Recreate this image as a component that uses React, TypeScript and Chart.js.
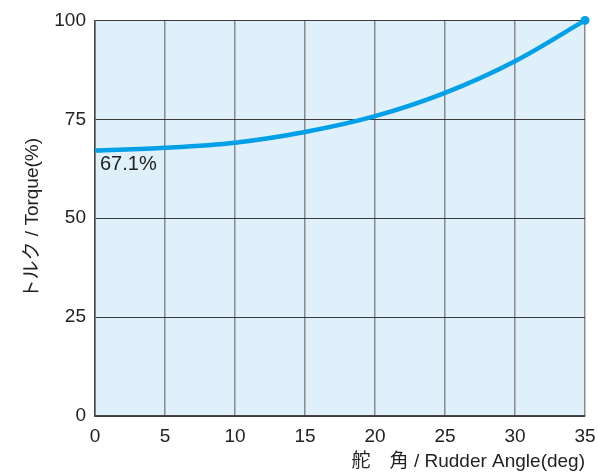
import React, { useEffect, useRef } from "react";
import { Chart, registerables } from "chart.js";

Chart.register(...registerables);

const angles = [0, 5, 10, 15, 20, 25, 30, 35];
const torque = [67.1, 67.8, 69.1, 71.8, 75.8, 81.7, 89.7, 100];
const xTicks = [0, 5, 10, 15, 20, 25, 30, 35];
const yTicks = [0, 25, 50, 75, 100];
const startLabel = "67.1%";
const xTitle = "舵\u3000角 / Rudder Angle(deg)";
const yTitle = "トルク / Torque(%)";

const FONT = "'Liberation Sans', 'Noto Sans CJK JP', Arial, sans-serif";

const bgPlugin = {
  id: "plotBg",
  beforeDraw(chart: any) {
    const { ctx, chartArea } = chart;
    ctx.save();
    ctx.fillStyle = "#dff0fa";
    ctx.fillRect(chartArea.left, chartArea.top, chartArea.right - chartArea.left, chartArea.bottom - chartArea.top);
    ctx.restore();
  },
};

const labelPlugin = {
  id: "startLabel",
  afterDatasetsDraw(chart: any) {
    const { ctx, scales } = chart;
    const x = scales.x.getPixelForValue(angles[0]);
    const y = scales.y.getPixelForValue(torque[0]);
    ctx.save();
    ctx.font = `20px ${FONT}`;
    ctx.fillStyle = "#222";
    ctx.textAlign = "left";
    ctx.textBaseline = "middle";
    ctx.fillText(startLabel, x + 5, y + 14);
    ctx.restore();
  },
};

export default function App() {
  const ref = useRef<HTMLCanvasElement>(null);
  useEffect(() => {
    if (!ref.current) return;
    const chart = new Chart(ref.current, {
      type: "line",
      data: {
        datasets: [
          {
            data: angles.map((a, i) => ({ x: a, y: torque[i] })),
            borderColor: "#00a0e9",
            backgroundColor: "#00a0e9",
            borderWidth: 4.5,
            cubicInterpolationMode: "monotone",
            pointRadius: angles.map((_, i) => (i === angles.length - 1 ? 4.5 : 0)),
            pointBorderWidth: 0,
            fill: false,
            clip: false,
          },
        ],
      },
      options: {
        animation: false,
        responsive: false,
        layout: { padding: { left: 0, right: 13, top: 19, bottom: 0 } },
        plugins: { legend: { display: false }, tooltip: { enabled: false } },
        scales: {
          x: {
            type: "linear",
            min: 0,
            max: 35,
            afterBuildTicks: (s: any) => {
              s.ticks = xTicks.map((v) => ({ value: v }));
            },
            afterFit: (s: any) => {
              s.height = 57;
              s.paddingRight = 0;
              s.paddingLeft = 0;
            },
            grid: { color: "#8a8a8a", lineWidth: 1.5, drawTicks: false },
            border: { color: "#444", width: 1.5 },
            ticks: { padding: 9, color: "#222", font: { family: FONT, size: 19 }, maxRotation: 0 },
            title: {
              display: true,
              text: xTitle,
              align: "end",
              color: "#222",
              font: { family: FONT, size: 19 },
              padding: { top: 0, bottom: 0 },
            },
          },
          y: {
            type: "linear",
            min: 0,
            max: 100,
            afterBuildTicks: (s: any) => {
              s.ticks = yTicks.map((v) => ({ value: v }));
            },
            afterFit: (s: any) => {
              s.width = 95;
            },
            grid: { color: "#3a3a3a", lineWidth: 1, drawTicks: false },
            border: { color: "#444", width: 1.5 },
            ticks: { padding: 9, color: "#222", font: { family: FONT, size: 19 } },
            title: {
              display: true,
              text: yTitle,
              color: "#222",
              font: { family: FONT, size: 19 },
              padding: { top: 21, bottom: 0 },
            },
          },
        },
      } as any,
      plugins: [bgPlugin, labelPlugin],
    });
    return () => chart.destroy();
  }, []);
  return (
    <div style={{ position: "absolute", left: 0, top: 0, width: 598, height: 473, background: "#fff" }}>
      <canvas ref={ref} width={598} height={473} style={{ width: 598, height: 473 }} />
    </div>
  );
}
